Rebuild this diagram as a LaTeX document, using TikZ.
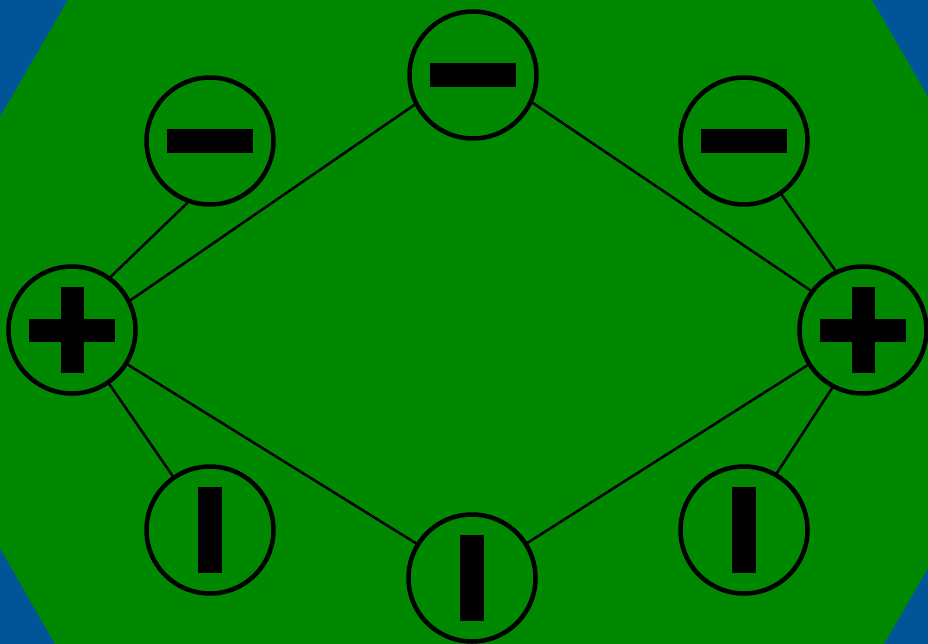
\documentclass[tikz,border=0pt]{standalone}
\usepackage{tikz}
\usetikzlibrary{positioning}
\definecolor{bgblue}{RGB}{0,85,153}
\definecolor{bggreen}{RGB}{0,136,0}
\tikzset{
  ion/.style={
    draw=black, line width=4.5pt, circle, fill=bggreen,
    minimum size=127pt, inner sep=0pt
  },
  ionplus/.style={ion, path picture={
    \fill[black] ([shift={(-43pt,-11.5pt)}]path picture bounding box.center) rectangle +(86pt,23pt);
    \fill[black] ([shift={(-11.5pt,-43pt)}]path picture bounding box.center) rectangle +(23pt,86pt);
  }},
  ionminus/.style={ion, path picture={
    \fill[black] ([shift={(-43pt,-12pt)}]path picture bounding box.center) rectangle +(86pt,24pt);
  }},
  ionbar/.style={ion, path picture={
    \fill[black] ([shift={(-12pt,-43pt)}]path picture bounding box.center) rectangle +(24pt,86pt);
  }},
  bond/.style={draw=black, line width=2.5pt}
}
\begin{document}
\begin{tikzpicture}[x=1pt,y=-1pt]
  \useasboundingbox (0,0) rectangle (928,644);
  % background
  \fill[bgblue] (0,0) rectangle (928,644);
  \fill[bggreen] (68,0) -- (872,0) -- (928,97) -- (928,568) -- (884,644)
    -- (55,644) -- (0,548) -- (0,117) -- cycle;
  % ions
  \node[ionplus] (lp) at (72,330) {};
  \node[ionplus] (rp) at (863,330) {};
  \node[ionminus] (tm) at (473,75) {};
  \node[ionminus] (tl) at (210,141) {};
  \node[ionminus] (tr) at (744,141) {};
  \node[ionbar] (bl) at (210,530) {};
  \node[ionbar] (bm) at (472,578) {};
  \node[ionbar] (br) at (744,530) {};
  % bonds
  \foreach \a/\b in {lp.54/tl.250, lp.27/tm.207, lp/bl, lp/bm,
                     rp.115/tr.305, rp.143/tm.335, rp.242/br.60, rp/bm}
    \draw[bond] (\a) -- (\b);
\end{tikzpicture}
\end{document}
